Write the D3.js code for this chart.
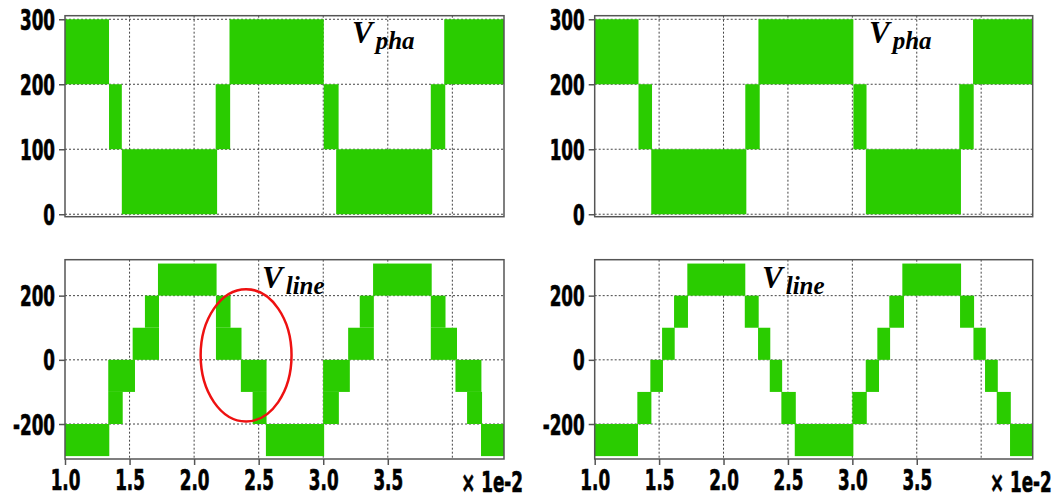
<!DOCTYPE html>
<html>
<head>
<meta charset="utf-8">
<script src="https://cdn.jsdelivr.net/npm/d3@7"></script>
<style>
  html, body { margin: 0; padding: 0; background: #fff; }
  svg { display: block; }
  .tick-label { font-family: "DejaVu Sans", sans-serif; font-weight: bold; fill: #000; stroke: #000; stroke-width: 0.7px; }
  .sig { font-family: "Liberation Serif", "DejaVu Serif", serif; font-weight: bold; font-style: italic; fill: #000; }
</style>
</head>
<body>
<svg id="chart" width="1060" height="499"></svg>
<script>
// ---------------- data ----------------
const xDomain = [1.0, 4.4];
const phaDomain = [-3.8, 305.5];
const lineDomain = [-309, 312];

const xTickValues = [1.0, 1.5, 2.0, 2.5, 3.0, 3.5];
const xGridValues = [1.5, 2.0, 2.5, 3.0, 3.5, 4.0];
const phaTicks = [0, 100, 200, 300];
const lineTicks = [-200, 0, 200];
const xExponentLabel = "\u00d7 1e-2";

// [t start, t end, low level, high level]  (t in 1e-2 s, volts)
const phaLeft = [
  [1.000, 1.341, 200, 300],
  [1.341, 1.440, 100, 200],
  [1.440, 2.178, 0, 100],
  [2.167, 2.279, 100, 200],
  [2.274, 3.004, 200, 300],
  [3.004, 3.119, 100, 200],
  [3.100, 3.844, 0, 100],
  [3.833, 3.945, 100, 200],
  [3.937, 4.400, 200, 300]
];
const phaRight = [
  [1.000, 1.340, 200, 300],
  [1.340, 1.445, 100, 200],
  [1.439, 2.177, 0, 100],
  [2.169, 2.281, 100, 200],
  [2.271, 3.008, 200, 300],
  [3.008, 3.110, 100, 200],
  [3.105, 3.843, 0, 100],
  [3.830, 3.942, 100, 200],
  [3.937, 4.400, 200, 300]
];
const lineLeft = [
  [1.000, 1.343, -300, -200],
  [1.335, 1.447, -200, -100],
  [1.335, 1.542, -100, 0],
  [1.524, 1.728, 0, 100],
  [1.619, 1.728, 100, 200],
  [1.720, 2.174, 200, 300],
  [2.169, 2.282, 100, 200],
  [2.169, 2.367, 0, 100],
  [2.362, 2.561, -100, 0],
  [2.453, 2.561, -200, -100],
  [2.556, 3.007, -300, -200],
  [2.999, 3.121, -200, -100],
  [2.999, 3.206, -100, 0],
  [3.193, 3.392, 0, 100],
  [3.283, 3.392, 100, 200],
  [3.386, 3.840, 200, 300],
  [3.833, 3.947, 100, 200],
  [3.833, 4.036, 0, 100],
  [4.024, 4.225, -100, 0],
  [4.114, 4.230, -200, -100],
  [4.222, 4.400, -300, -200]
];
const lineRight = [
  [1.000, 1.336, -300, -200],
  [1.331, 1.440, -200, -100],
  [1.432, 1.530, -100, 0],
  [1.523, 1.621, 0, 100],
  [1.616, 1.724, 100, 200],
  [1.719, 2.169, 200, 300],
  [2.165, 2.273, 100, 200],
  [2.268, 2.363, 0, 100],
  [2.359, 2.455, -100, 0],
  [2.449, 2.561, -200, -100],
  [2.553, 3.008, -300, -200],
  [3.000, 3.112, -200, -100],
  [3.104, 3.207, -100, 0],
  [3.194, 3.293, 0, 100],
  [3.287, 3.401, 100, 200],
  [3.388, 3.844, 200, 300],
  [3.836, 3.945, 100, 200],
  [3.940, 4.036, 0, 100],
  [4.030, 4.129, -100, 0],
  [4.121, 4.230, -200, -100],
  [4.224, 4.400, -300, -200]
];
// red ellipse annotation (centre t, centre V, half-width t, half-height V)
const ellipseMark = [2.4025, 14, 0.352, 206];

// ---------------- layout ----------------
const GREEN = "#2acc00";
const SQUEEZE = 0.6;   // condensed look of the tick font
const svg = d3.select("#chart");

const panels = [
  { left: 65,    right: 504,    top: 15.7,  bottom: 216.7, domain: phaDomain,  ticks: phaTicks,  data: phaLeft,   xLabels: false, sig: "pha",  sx: 352, sy: 43 },
  { left: 594.7, right: 1032.7, top: 15.7,  bottom: 216.7, domain: phaDomain,  ticks: phaTicks,  data: phaRight,  xLabels: false, sig: "pha",  sx: 869, sy: 43 },
  { left: 65,    right: 504,    top: 259.7, bottom: 459,   domain: lineDomain, ticks: lineTicks, data: lineLeft,  xLabels: true,  sig: "line", sx: 262, sy: 288, ellipse: true },
  { left: 594.7, right: 1032.7, top: 259.7, bottom: 459,   domain: lineDomain, ticks: lineTicks, data: lineRight, xLabels: true,  sig: "line", sx: 762, sy: 288 }
];

panels.forEach(p => {
  const x = d3.scaleLinear().domain(xDomain).range([p.left, p.right]);
  const y = d3.scaleLinear().domain(p.domain).range([p.bottom, p.top]);
  const g = svg.append("g");

  // grid
  g.append("g").selectAll("line").data(p.ticks).join("line")
    .attr("x1", p.left).attr("x2", p.right)
    .attr("y1", d => y(d)).attr("y2", d => y(d))
    .attr("stroke", "#444").attr("stroke-width", 1).attr("stroke-dasharray", "2,2");
  g.append("g").selectAll("line").data(xGridValues).join("line")
    .attr("x1", d => x(d)).attr("x2", d => x(d))
    .attr("y1", p.top).attr("y2", p.bottom)
    .attr("stroke", "#444").attr("stroke-width", 1).attr("stroke-dasharray", "2,2");

  // waveform blocks
  g.append("g").selectAll("rect").data(p.data).join("rect")
    .attr("x", d => x(d[0]))
    .attr("width", d => x(d[1]) - x(d[0]))
    .attr("y", d => y(d[3]))
    .attr("height", d => y(d[2]) - y(d[3]))
    .attr("fill", GREEN);

  // frame
  g.append("rect")
    .attr("x", p.left).attr("y", p.top)
    .attr("width", p.right - p.left).attr("height", p.bottom - p.top)
    .attr("fill", "none").attr("stroke", "#555").attr("stroke-width", 1.5);

  // y axis
  const yAxis = d3.axisLeft(y).tickValues(p.ticks).tickSize(6).tickPadding(4).tickFormat(d => String(d));
  const ya = g.append("g").attr("transform", `translate(${p.left},0)`).call(yAxis);
  ya.select(".domain").remove();
  ya.selectAll(".tick line").attr("stroke", "#555").attr("stroke-width", 1.5);
  ya.selectAll(".tick text")
    .attr("class", "tick-label").attr("font-size", 28).attr("dy", "0.36em")
    .attr("x", -10 / SQUEEZE)
    .attr("transform", `scale(${SQUEEZE},1)`);

  // x axis
  if (p.xLabels) {
    const xAxis = d3.axisBottom(x).tickValues(xTickValues).tickSize(6).tickPadding(5).tickFormat(d3.format(".1f"));
    const xa = g.append("g").attr("transform", `translate(0,${p.bottom})`).call(xAxis);
    xa.select(".domain").remove();
    xa.selectAll(".tick line").attr("stroke", "#555").attr("stroke-width", 1.5);
    xa.selectAll(".tick text")
      .attr("class", "tick-label").attr("font-size", 28).attr("dy", "0.71em")
      .attr("transform", `scale(${SQUEEZE},1)`);
    g.append("g").attr("transform", `translate(${p.right + 19},492) scale(${SQUEEZE},1)`)
      .append("text").attr("class", "tick-label")
      .attr("text-anchor", "end").attr("font-size", 28)
      .text(xExponentLabel);
  }

  // signal name
  const t = g.append("text").attr("class", "sig").attr("x", p.sx).attr("y", p.sy).attr("font-size", 31);
  t.append("tspan").text("V");
  t.append("tspan").attr("font-size", 25).attr("dx", 3).attr("dy", 6).text(p.sig);

  if (p.ellipse) {
    g.append("ellipse")
      .attr("cx", x(ellipseMark[0])).attr("cy", y(ellipseMark[1]))
      .attr("rx", x(xDomain[0] + ellipseMark[2]) - x(xDomain[0]))
      .attr("ry", y(0) - y(ellipseMark[3]))
      .attr("fill", "none").attr("stroke", "#ee1111").attr("stroke-width", 2.5);
  }
});
</script>
</body>
</html>
